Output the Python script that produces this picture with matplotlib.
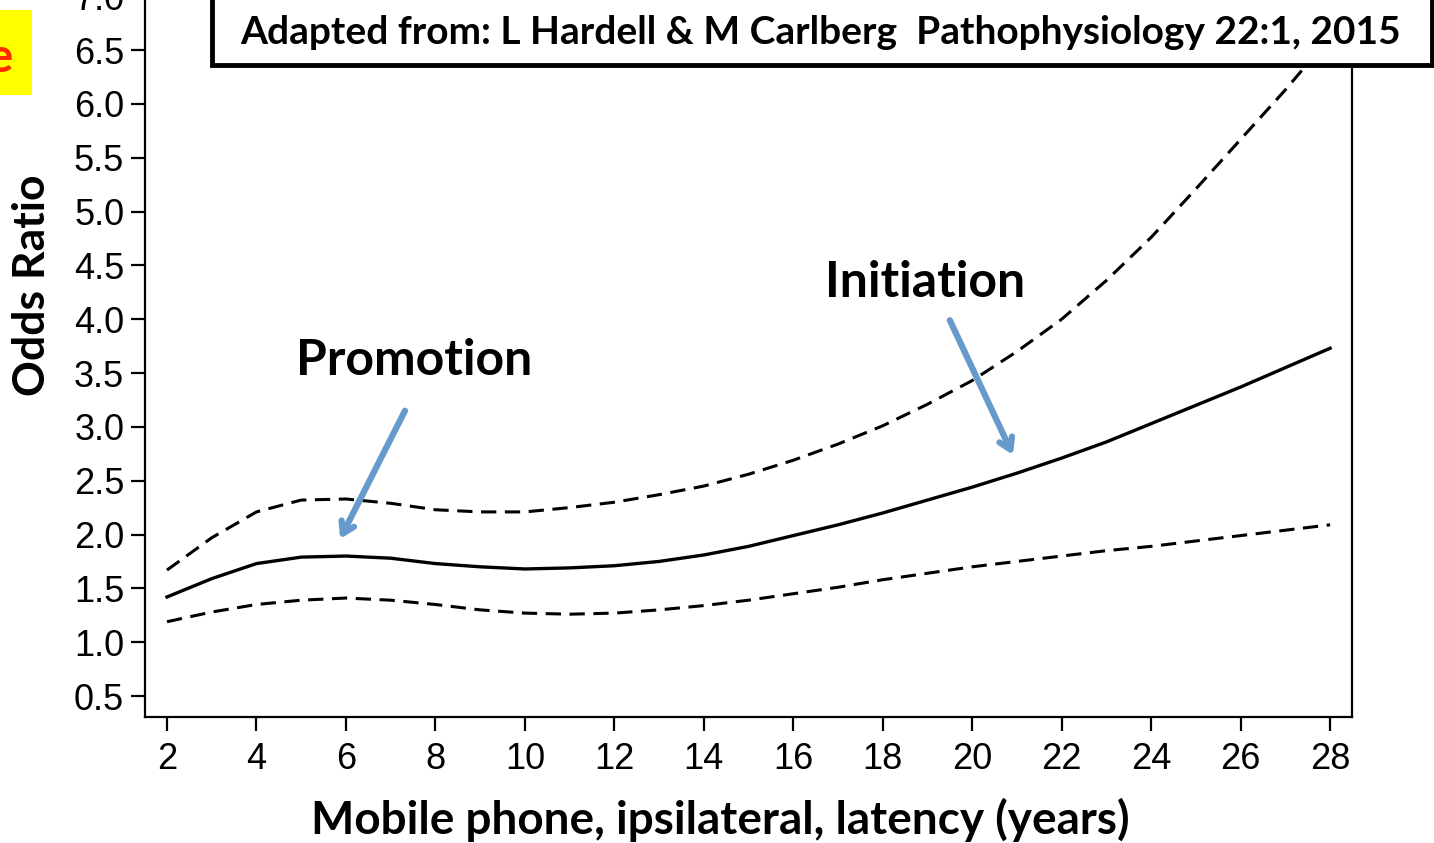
import numpy as np
import matplotlib
matplotlib.use("Agg")
import matplotlib.pyplot as plt
from matplotlib.patches import Rectangle

# latency (years) and odds ratio curves
latency = [2, 3, 4, 5, 6, 7, 8, 9, 10, 11, 12, 13, 14, 15, 16, 17, 18, 19, 20,
           21, 22, 23, 24, 25, 26, 27, 28]
odds = [1.42, 1.59, 1.73, 1.79, 1.80, 1.78, 1.73, 1.70, 1.68, 1.69, 1.71, 1.75,
        1.81, 1.89, 1.99, 2.09, 2.20, 2.32, 2.44, 2.57, 2.71, 2.86, 3.03, 3.20,
        3.37, 3.55, 3.73]
upper = [1.67, 1.97, 2.21, 2.32, 2.33, 2.29, 2.23, 2.21, 2.21, 2.25, 2.30, 2.37,
         2.45, 2.56, 2.69, 2.84, 3.01, 3.21, 3.43, 3.70, 4.00, 4.36, 4.76, 5.21,
         5.67, 6.13, 6.62]
lower = [1.19, 1.28, 1.35, 1.39, 1.41, 1.39, 1.35, 1.30, 1.27, 1.26, 1.27, 1.30,
         1.34, 1.39, 1.45, 1.51, 1.58, 1.64, 1.70, 1.75, 1.80, 1.85, 1.89, 1.94,
         1.99, 2.04, 2.09]

x_ticks = list(range(2, 29, 2))
y_ticks = [0.5, 1.0, 1.5, 2.0, 2.5, 3.0, 3.5, 4.0, 4.5, 5.0, 5.5, 6.0, 6.5, 7.0]

W, H = 1434, 843
bold_font = ["Lato", "DejaVu Sans"]
tick_font = ["Liberation Sans", "DejaVu Sans"]
arrow_col = "#6699cc"

fig = plt.figure(figsize=(W / 100, H / 100), dpi=100)
# axes box in pixels: left 145, right 1352, bottom 717; top runs off the page
ax_h = 717 / H + 0.04
ax = fig.add_axes([145 / W, 1 - 717 / H, (1352 - 145) / W, ax_h])
ax_hpx = ax_h * H

ax.plot(latency, odds, color="black", lw=2.4)
ax.plot(latency, upper, color="black", lw=2.2, dashes=(5, 2.8))
ax.plot(latency, lower, color="black", lw=2.2, dashes=(5, 2.8))

ax.set_xlim(1.508, 28.49)
ax.set_ylim(0.305, 6.5 + (50 + 0.04 * H) / 107.6)
ax.set_xticks(x_ticks)
ax.set_yticks(y_ticks)
ax.set_yticklabels([f"{v:.1f}" for v in y_ticks])
ax.spines["top"].set_visible(False)
for s in ["left", "right", "bottom"]:
    ax.spines[s].set_linewidth(1.6)
ax.tick_params(length=10, width=1.6, labelsize=26)
ax.tick_params(axis="y", pad=5)
ax.tick_params(axis="x", pad=8)
for lab in ax.get_xticklabels() + ax.get_yticklabels():
    lab.set_family(tick_font)

ax.set_xlabel("Mobile phone, ipsilateral, latency (years)", family=bold_font,
              weight="bold", fontsize=33, va="center")
ax.xaxis.set_label_coords((720 - 145) / 1207, -(820 - 717) / ax_hpx)
ax.set_ylabel("Odds Ratio", family=bold_font, weight="bold", fontsize=32,
              va="center")
ax.yaxis.set_label_coords((32 - 145) / 1207, (717 - 285) / ax_hpx)

ax.text(7.52, 3.62, "Promotion", family=bold_font, weight="bold", fontsize=36,
        ha="center", va="center")
ax.text(18.95, 4.34, "Initiation", family=bold_font, weight="bold", fontsize=36,
        ha="center", va="center")

arrow = dict(arrowstyle="->,head_length=0.8,head_width=0.5", color=arrow_col,
             lw=4.5, shrinkA=0, shrinkB=0)
ax.annotate("", xy=(5.87, 1.96), xytext=(7.32, 3.15), arrowprops=arrow)
ax.annotate("", xy=(20.91, 2.74), xytext=(19.50, 3.99), arrowprops=arrow)

# citation box at the top
fig.patches.append(Rectangle((212 / W, 1 - 65 / H), (1432 - 212) / W, 0.2,
                             transform=fig.transFigure, facecolor="white",
                             edgecolor="black", lw=3.5, zorder=5))
fig.text(821 / W, 1 - 33 / H,
         "Adapted from: L Hardell & M Carlberg  Pathophysiology 22:1, 2015",
         family=bold_font, weight="bold", fontsize=28, ha="center", va="center",
         zorder=6)

# bit of a yellow label cut off at the left edge
fig.patches.append(Rectangle((0, 1 - 95 / H), 32 / W, 85 / H,
                             transform=fig.transFigure, facecolor="#ffff00",
                             edgecolor="none", zorder=5))
fig.text(0, 1 - 58 / H, "e", color="#ff2a00", family=bold_font, weight="bold",
         fontsize=34, ha="center", va="center", zorder=6)

fig.savefig("out.png", dpi=100)
